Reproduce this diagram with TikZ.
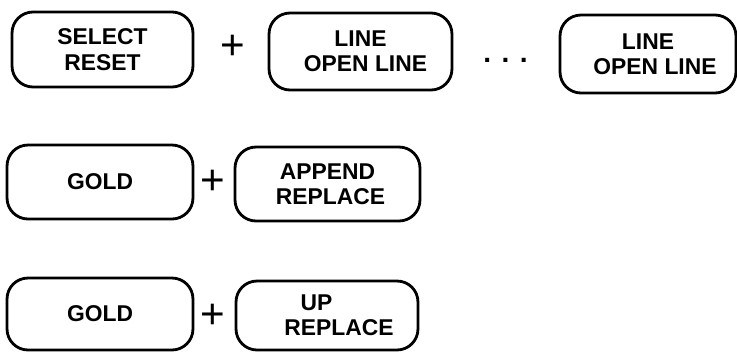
\documentclass[tikz,border=0pt]{standalone}
\usepackage{fontspec}
\setmainfont{Liberation Sans}

\tikzset{
  keybox/.style={draw, line width=1.6pt, rounded corners=0.42cm, align=center,
    inner sep=0pt, font=\bfseries\fontsize{13}{14.5}\selectfont},
  plussign/.style={inner sep=0pt, font=\fontsize{24}{24}\selectfont},
  keydots/.style={inner sep=0pt, font=\bfseries\fontsize{16}{16}\selectfont}
}

\begin{document}
\begin{tikzpicture}[x=0.02cm, y=-0.02cm]

    \useasboundingbox (0,0) rectangle (737,352);

    % 1. FIRST ROW (SELECT + LINE ... LINE)
    \node[keybox, minimum width=3.62cm, minimum height=1.50cm] (selreset) at (102.5, 49.5) {SELECT\\RESET};
    \node[plussign] (plusA) at (233, 47) {+};
    \node[keybox, minimum width=3.66cm, minimum height=1.54cm] (lineA) at (360.5, 51.5) {LINE\\\hspace*{0.2cm}OPEN LINE};
    \node[keydots] (dots) at (505.5, 60) {. . .};
    \node[keybox, minimum width=3.52cm, minimum height=1.56cm] (lineB) at (648, 54) {LINE\\\hspace*{0.28cm}OPEN LINE};

    % 2. SECOND ROW (GOLD + APPEND)
    \node[keybox, minimum width=3.72cm, minimum height=1.48cm] (goldA) at (100, 182) {GOLD};
    \node[plussign] (plusB) at (213, 182) {+};
    \node[keybox, minimum width=3.70cm, minimum height=1.48cm] (append) at (327.5, 184) {APPEND\\\hspace*{0.12cm}REPLACE};

    % 3. THIRD ROW (GOLD + UP)
    \node[keybox, minimum width=3.72cm, minimum height=1.44cm] (goldB) at (100, 314) {GOLD};
    \node[plussign] (plusC) at (213, 316) {+};
    \node[keybox, minimum width=3.64cm, minimum height=1.38cm] (up) at (327, 315.5) {UP\hspace*{0.42cm}\\\hspace*{0.48cm}REPLACE};

\end{tikzpicture}
\end{document}
